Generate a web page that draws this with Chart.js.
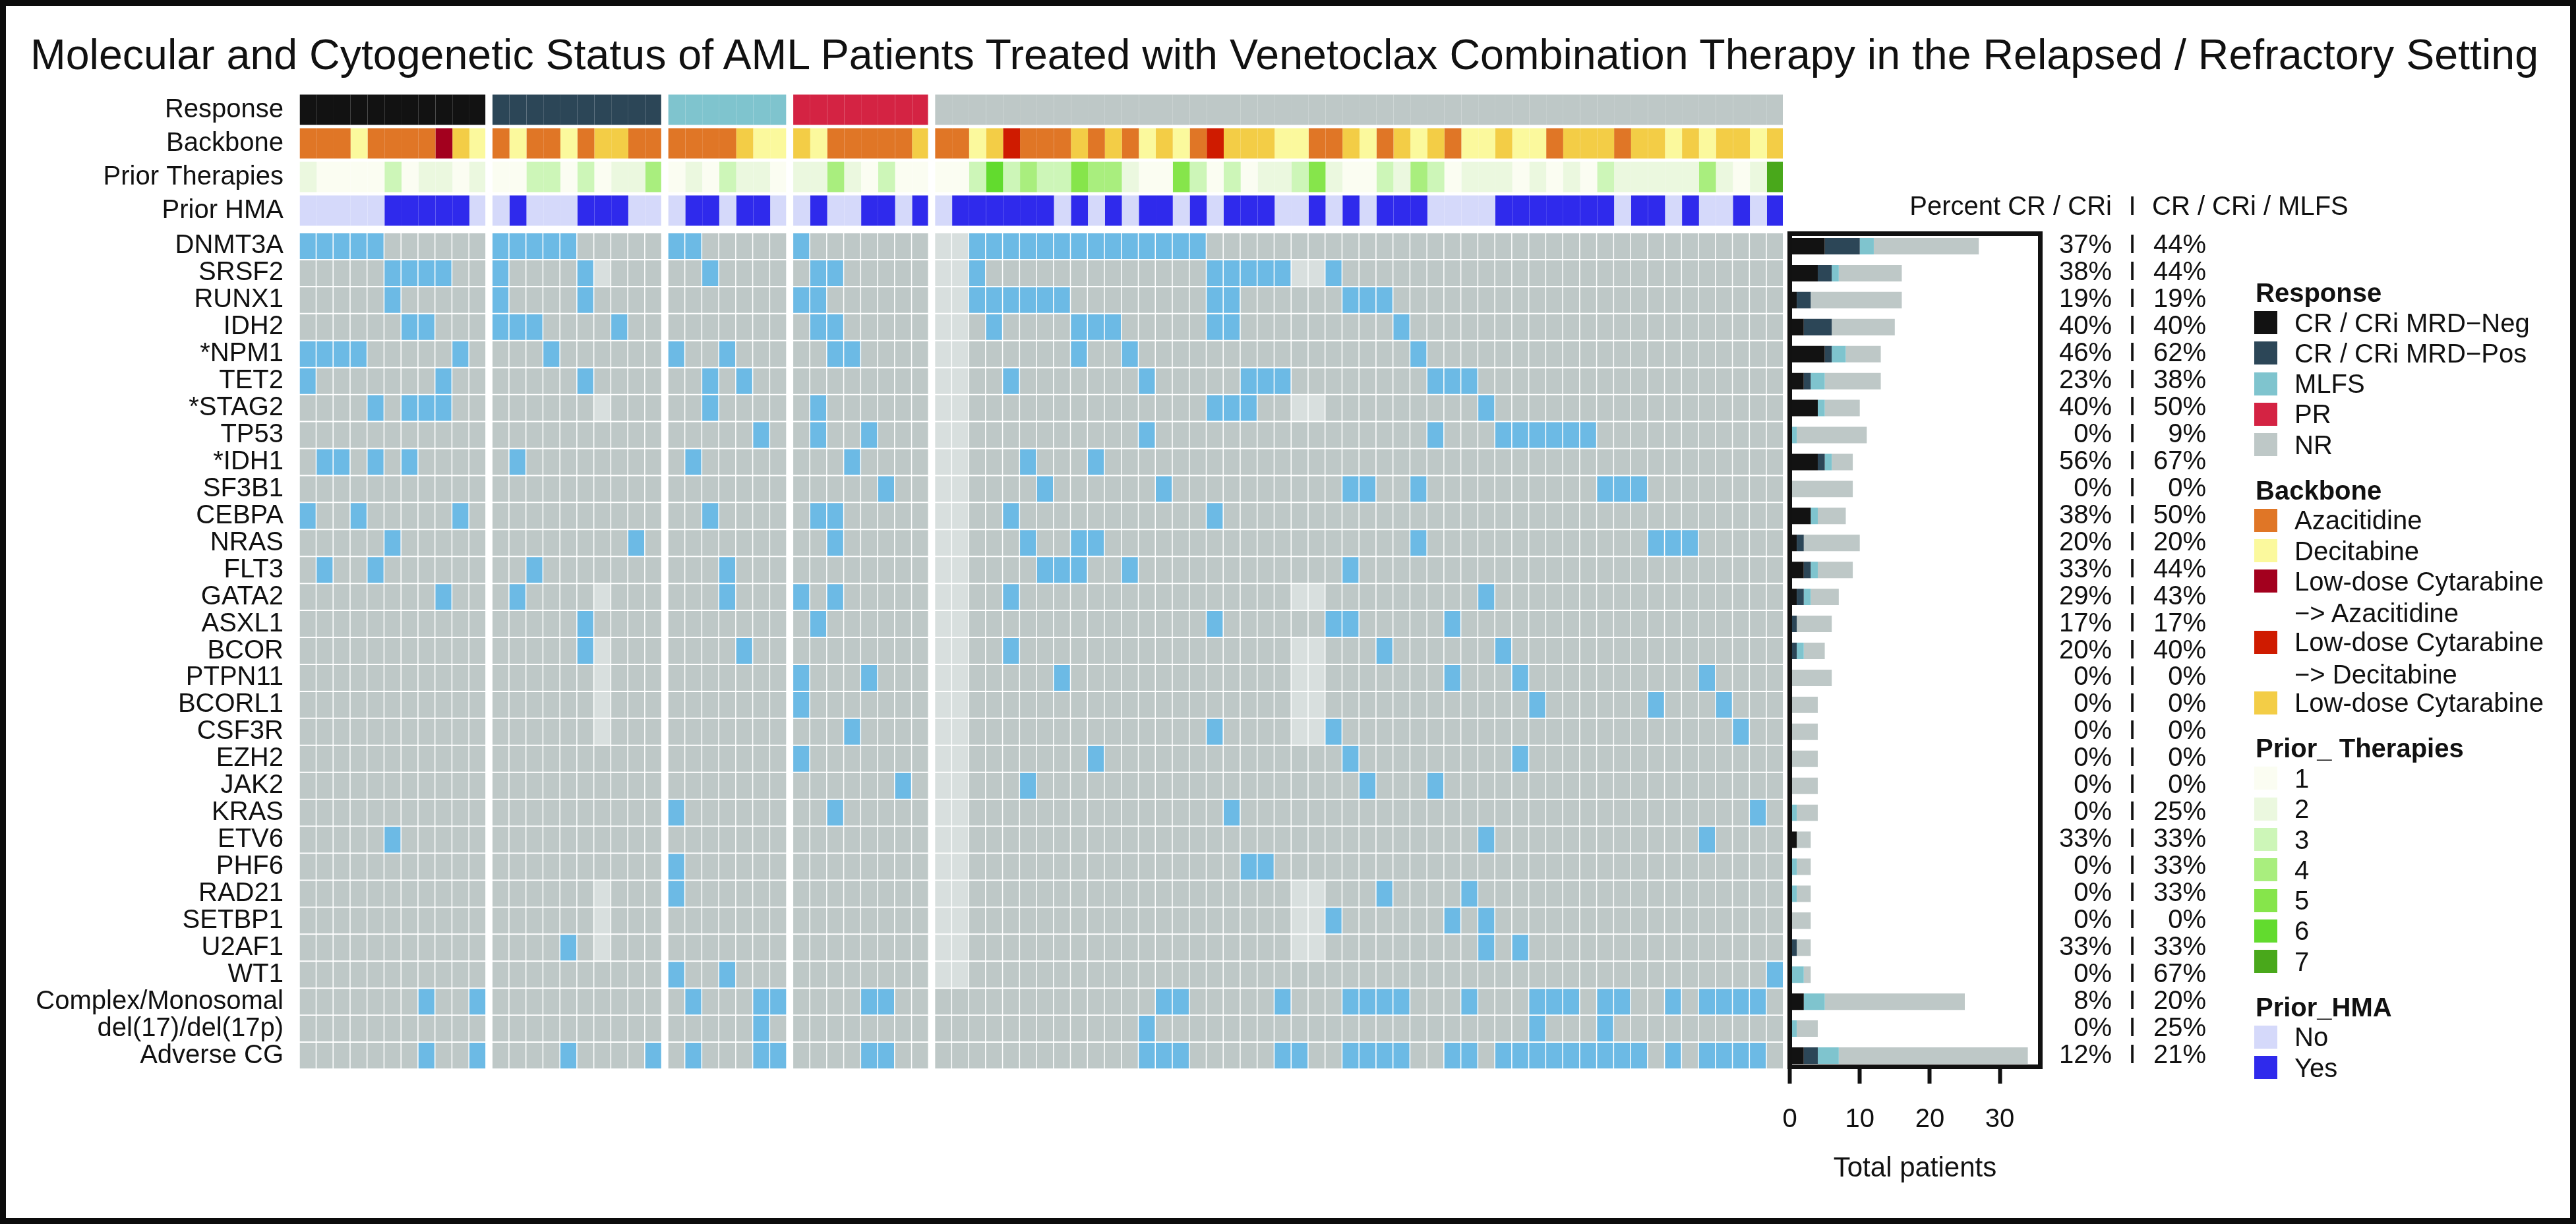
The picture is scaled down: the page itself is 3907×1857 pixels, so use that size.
<!DOCTYPE html>
<html>
<head>
<meta charset="utf-8">
<title>AML venetoclax oncoprint</title>
<script src="https://cdn.jsdelivr.net/npm/chart.js"></script>
<style>
  html, body { margin: 0; padding: 0; background: #fff; }
  #page { position: relative; width: 3907px; height: 1857px; overflow: hidden; background: #fff;
          font-family: "Liberation Sans", Arial, sans-serif; color: #111; }
  #page canvas { position: absolute; }
  #border { position: absolute; left: 0; top: 0; width: 3907px; height: 1857px;
            box-sizing: border-box; border: 9px solid #0c0c0c; }
  #title { position: absolute; left: 46px; top: 51px; font-size: 64.5px; line-height: 64.5px; white-space: nowrap; }
  .t { position: absolute; white-space: nowrap; font-size: 40px; line-height: 40px; }
  .bold { font-weight: bold; }
  .sw { position: absolute; width: 35px; height: 35px; }
</style>
</head>
<body>
<div id="page">
  <div id="title">Molecular and Cytogenetic Status of AML Patients Treated with Venetoclax Combination Therapy in the Relapsed / Refractory Setting</div>
  <canvas id="annot" width="2704" height="204" style="left:0;top:141px"></canvas>
  <canvas id="genes" width="2704" height="1269" style="left:0;top:353px"></canvas>
  <canvas id="bars" width="1000" height="1520" style="left:2600px;top:280px"></canvas>
  <div id="legend"></div>
  <div id="border"></div>
</div>
<script>
// ---------------- data ----------------
const responseGroups = ['CR / CRi MRD−Neg', 'CR / CRi MRD−Pos', 'MLFS', 'PR', 'NR'];
const responseColors = ['#121212', '#2c4657', '#7fc4ce', '#d42343', '#bec8c7'];
const groupSizes = [11, 10, 7, 8, 50];

// backbone per patient: Z aza, D dec, X LDAC->aza, Y LDAC->dec, L LDAC
const backboneCodes = ['Z', 'D', 'X', 'Y', 'L'];
const backboneNames = ['Azacitidine', 'Decitabine', 'Low-dose Cytarabine\n−> Azacitidine',
                       'Low-dose Cytarabine\n−> Decitabine', 'Low-dose Cytarabine'];
const backboneColors = ['#e07626', '#fbf99d', '#a3001e', '#cf1b00', '#f3cd46'];
const backbone = 'ZZZDZZZZXLD ZDZZDZLLZZ ZZZZLDD LDZZZZZL ' +
  'ZZDLYZZZLZ LZDLDZYLLL DDZZLDZLDL ZDDLDDZLLL ZLLDLDLLDL';

const therapyLevels = ['1', '2', '3', '4', '5', '6', '7'];
const therapyColors = ['#fbfdf2', '#ebf8df', '#cdf6b8', '#a9ee7e', '#86e54b', '#62db2e', '#49a81b'];
const priorTherapies = '21111312212 1133131224 1213221 22421311 ' +
  '1136343354 4211531312 2352113243 1222121213 2222242127';

const hmaLevels = ['No', 'Yes'];
const hmaColors = ['#d5d9fa', '#2f2aec'];
const priorHMA = 'NNNNNYYYYYN NYNNNYYYNN NYYNYYN NYNNYYNY ' +
  'NYYYYYYNYN YNYYNYNYYY NNYNYNYYYN NNNYYYYYYY NYYNYNNYNY';

const annotLabels = ['Response', 'Backbone', 'Prior Therapies', 'Prior HMA'];

const genes = ['DNMT3A', 'SRSF2', 'RUNX1', 'IDH2', '*NPM1', 'TET2', '*STAG2', 'TP53', '*IDH1', 'SF3B1',
  'CEBPA', 'NRAS', 'FLT3', 'GATA2', 'ASXL1', 'BCOR', 'PTPN11', 'BCORL1', 'CSF3R', 'EZH2', 'JAK2',
  'KRAS', 'ETV6', 'PHF6', 'RAD21', 'SETBP1', 'U2AF1', 'WT1', 'Complex/Monosomal', 'del(17)/del(17p)',
  'Adverse CG'];

// patient columns (0-85) carrying each alteration, same order as genes
const mutated = [
  [0, 1, 2, 3, 4, 11, 12, 13, 14, 15, 21, 22, 28, 38, 39, 40, 41, 42, 43, 44, 45, 46, 47, 48, 49, 50, 51],
  [5, 6, 7, 8, 11, 16, 23, 29, 30, 38, 52, 53, 54, 55, 56, 59],
  [5, 11, 16, 28, 29, 38, 39, 40, 41, 42, 43, 52, 53, 60, 61, 62],
  [6, 7, 11, 12, 13, 18, 29, 30, 39, 44, 45, 46, 52, 53, 63],
  [0, 1, 2, 3, 9, 14, 21, 24, 30, 31, 44, 47, 64],
  [0, 8, 16, 23, 25, 40, 48, 54, 55, 56, 65, 66, 67],
  [4, 6, 7, 8, 23, 29, 52, 53, 54, 68],
  [26, 29, 32, 48, 65, 69, 70, 71, 72, 73, 74],
  [1, 2, 4, 6, 12, 22, 31, 41, 45],
  [33, 42, 49, 60, 61, 64, 75, 76, 77],
  [0, 3, 9, 23, 29, 30, 40, 52],
  [5, 19, 30, 41, 44, 45, 64, 78, 79, 80],
  [1, 4, 13, 24, 42, 43, 44, 47, 60],
  [8, 12, 24, 28, 30, 40, 68],
  [16, 29, 52, 59, 60, 66],
  [16, 25, 40, 62, 69],
  [28, 32, 43, 66, 70, 81],
  [28, 71, 78, 82],
  [31, 52, 59, 83],
  [28, 45, 60, 70],
  [34, 41, 61, 65],
  [21, 30, 53, 84],
  [5, 68, 81],
  [21, 54, 55],
  [21, 62, 67],
  [59, 66, 68],
  [15, 68, 70],
  [21, 24, 85],
  [7, 10, 22, 26, 27, 32, 33, 49, 50, 56, 60, 61, 62, 63, 67, 71, 72, 73, 75, 76, 79, 81, 82, 83, 84],
  [26, 48, 71, 75],
  [7, 10, 15, 20, 22, 26, 27, 32, 33, 48, 49, 50, 56, 57, 60, 61, 62, 63, 66, 67,
   69, 70, 71, 72, 73, 74, 75, 76, 77, 79, 81, 82, 83, 84]
];

// cells shown as "not tested"
const noSequencing = [36, 37];              // only cytogenetics available
const smallPanel = [17, 57, 58];            // panel without these genes
const smallPanelMissing = ['SRSF2', '*STAG2', 'GATA2', 'BCOR', 'PTPN11', 'BCORL1', 'CSF3R', 'RAD21', 'SETBP1', 'U2AF1'];
const cytoRows = ['Complex/Monosomal', 'del(17)/del(17p)', 'Adverse CG'];

const cellColors = { mut: '#6cbae5', wt: '#bec8c7', na: '#d8dfde' };

const xTicks = [0, 10, 20, 30];
const pctHeader = ['Percent CR / CRi', 'CR / CRi / MLFS'];

// ---------------- layout helpers ----------------
const FONT = '"Liberation Sans", Arial, sans-serif';
const GROUP_GAP = 0.36;
const CELL_W = 0.94;

const codes = s => s.replace(/\s+/g, '');
const bb = codes(backbone), pt = codes(priorTherapies), hma = codes(priorHMA);

const groupOf = [];
groupSizes.forEach((n, g) => { for (let i = 0; i < n; i++) groupOf.push(g); });
const patients = groupOf.map((g, p) => p);
const xPos = patients.map(p => p + groupOf[p] * GROUP_GAP);
const xMax = xPos[xPos.length - 1] + CELL_W;
const lastInGroup = p => p === patients.length - 1 || groupOf[p + 1] !== groupOf[p];

function cellStatus(r, p) {
  const g = genes[r];
  if (mutated[r].includes(p)) return 'mut';
  if (noSequencing.includes(p) && !cytoRows.includes(g)) return 'na';
  if (smallPanel.includes(p) && smallPanelMissing.includes(g)) return 'na';
  return 'wt';
}

function annotColor(r, p) {
  if (r === 0) return responseColors[groupOf[p]];
  if (r === 1) return backboneColors[backboneCodes.indexOf(bb[p])];
  if (r === 2) return therapyColors[Number(pt[p]) - 1];
  return hma[p] === 'Y' ? hmaColors[1] : hmaColors[0];
}

const rowLabelPlugin = {
  id: 'rowLabels',
  afterDraw(chart) {
    const { ctx } = chart;
    const ys = chart.scales.y;
    ctx.save();
    ctx.font = '40px ' + FONT;
    ctx.fillStyle = '#111';
    ctx.textAlign = 'right';
    ctx.textBaseline = 'middle';
    chart.data.labels.forEach((lab, i) => ctx.fillText(lab, 430, ys.getPixelForValue(i)));
    ctx.restore();
  }
};

function heatmap(id, rowLabels, colorFn, widthFn, barPct) {
  const datasets = patients.map(p => ({
    data: rowLabels.map(() => [xPos[p], xPos[p] + widthFn(p)]),
    backgroundColor: rowLabels.map((lab, r) => colorFn(r, p)),
    grouped: false,
    barPercentage: barPct,
    categoryPercentage: 1,
    borderWidth: 0
  }));
  return new Chart(document.getElementById(id), {
    type: 'bar',
    data: { labels: rowLabels, datasets },
    options: {
      indexAxis: 'y',
      responsive: false,
      animation: false,
      events: [],
      layout: { padding: { left: 454.5 } },
      plugins: { legend: { display: false }, tooltip: { enabled: false } },
      scales: {
        x: { type: 'linear', min: 0, max: xMax, display: false },
        y: { type: 'category', offset: true, display: false }
      }
    },
    plugins: [rowLabelPlugin]
  });
}

heatmap('annot', annotLabels, annotColor, p => (lastInGroup(p) ? CELL_W : 1), 0.9);
heatmap('genes', genes, (r, p) => cellColors[cellStatus(r, p)], () => CELL_W, 0.952);

// ---------------- summary bars ----------------
const countIn = g => mutated.map(ps => ps.filter(p => groupOf[p] === g).length);
const crNeg = countIn(0), crPos = countIn(1), mlfs = countIn(2);
const others = mutated.map(ps => ps.filter(p => groupOf[p] >= 3).length);
const pctCR = mutated.map((ps, i) => Math.round(100 * (crNeg[i] + crPos[i]) / ps.length));
const pctCRM = mutated.map((ps, i) => Math.round(100 * (crNeg[i] + crPos[i] + mlfs[i]) / ps.length));

const framePlugin = {
  id: 'panelFrame',
  afterDatasetsDraw(chart) {
    const { ctx, chartArea: a } = chart;
    ctx.save();
    ctx.strokeStyle = '#111';
    ctx.lineWidth = 7;
    ctx.strokeRect(a.left, a.top + 1.5, a.right - a.left, a.bottom - a.top - 5);
    ctx.restore();
  }
};

const percentPlugin = {
  id: 'percentLabels',
  afterDraw(chart) {
    const { ctx } = chart;
    const ys = chart.scales.y;
    ctx.save();
    ctx.font = '40px ' + FONT;
    ctx.fillStyle = '#111';
    ctx.textBaseline = 'middle';
    ctx.textAlign = 'right';
    ctx.fillText(pctHeader[0], 603, 35);
    ctx.textAlign = 'center';
    ctx.fillText('I', 634, 35);
    ctx.textAlign = 'left';
    ctx.fillText(pctHeader[1], 664, 35);
    genes.forEach((g, i) => {
      const y = ys.getPixelForValue(i);
      ctx.textAlign = 'right';
      ctx.fillText(pctCR[i] + '%', 603, y);
      ctx.fillText(pctCRM[i] + '%', 746, y);
      ctx.textAlign = 'center';
      ctx.fillText('I', 634, y);
    });
    ctx.restore();
  }
};

new Chart(document.getElementById('bars'), {
  type: 'bar',
  data: {
    labels: genes,
    datasets: [
      { label: responseGroups[0], data: crNeg, backgroundColor: responseColors[0] },
      { label: responseGroups[1], data: crPos, backgroundColor: responseColors[1] },
      { label: responseGroups[2], data: mlfs, backgroundColor: responseColors[2] },
      { label: 'PR / NR', data: others, backgroundColor: responseColors[4] }
    ]
  },
  options: {
    indexAxis: 'y',
    responsive: false,
    animation: false,
    events: [],
    layout: { padding: { left: 114.5, right: 505.5, top: 73, bottom: 0 } },
    datasets: { bar: { barPercentage: 0.61, categoryPercentage: 1, borderWidth: 0 } },
    plugins: { legend: { display: false }, tooltip: { enabled: false } },
    scales: {
      y: { type: 'category', stacked: true, offset: true, display: false },
      x: {
        type: 'linear', stacked: true, min: 0, max: 35.78, position: 'bottom',
        afterBuildTicks: s => { s.ticks = xTicks.map(v => ({ value: v })); },
        afterFit: s => { s.height = 178; },
        grid: { display: true, drawOnChartArea: false, drawTicks: true, tickLength: 22, tickWidth: 6, tickColor: '#111' },
        border: { display: false },
        ticks: { font: { size: 40, family: FONT }, color: '#111', padding: 31, maxRotation: 0 },
        title: { display: true, text: 'Total patients', font: { size: 42, family: FONT }, color: '#111',
                 padding: { top: 0, bottom: 1 } }
      }
    }
  },
  plugins: [framePlugin, percentPlugin]
});

// ---------------- legend ----------------
const legendBlocks = [
  { title: 'Response', labels: responseGroups, colors: responseColors },
  { title: 'Backbone', labels: backboneNames, colors: backboneColors },
  { title: 'Prior_ Therapies', labels: therapyLevels, colors: therapyColors },
  { title: 'Prior_HMA', labels: hmaLevels, colors: hmaColors }
];
const legend = document.getElementById('legend');
function addText(txt, x, top, bold) {
  const d = document.createElement('div');
  d.className = 't' + (bold ? ' bold' : '');
  d.style.left = x + 'px';
  d.style.top = top + 'px';
  d.textContent = txt;
  legend.appendChild(d);
}
let blockTop = 424;
legendBlocks.forEach(b => {
  addText(b.title, 3421, blockTop, true);
  let c = blockTop + 65.5, lastLine = c;
  b.labels.forEach((lab, i) => {
    const sw = document.createElement('div');
    sw.className = 'sw';
    sw.style.left = '3419px';
    sw.style.top = (c - 17.5) + 'px';
    sw.style.background = b.colors[i];
    legend.appendChild(sw);
    const lines = lab.split('\n');
    lines.forEach((line, k) => addText(line, 3480, c - 20 + k * 48.5));
    lastLine = c;
    c += 46.3 + (lines.length - 1) * 46;
  });
  blockTop = lastLine + 49;
});
</script>
</body>
</html>
